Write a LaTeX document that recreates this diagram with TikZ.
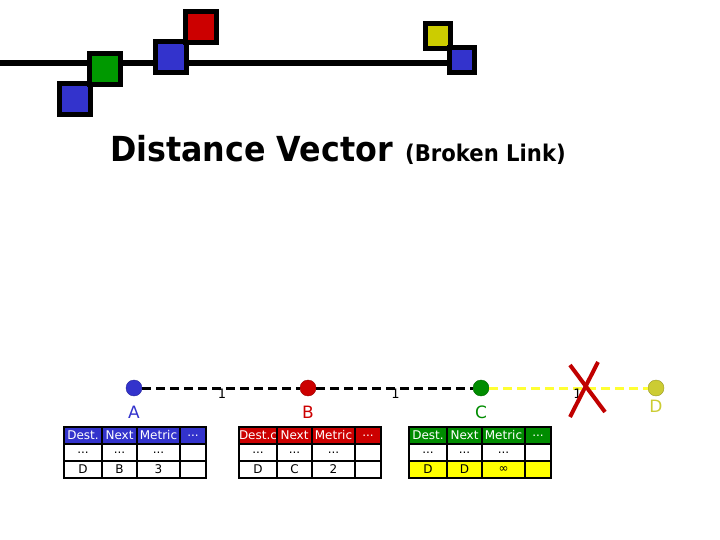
\documentclass[tikz,border=0pt]{standalone}
\usepackage{fontspec}
\setmainfont{DejaVu Sans}
\newfontfamily\titlefont[FakeStretch=0.92]{DejaVu Sans}
\usetikzlibrary{positioning}
\definecolor{nblue}{RGB}{51,51,204}
\definecolor{nred}{RGB}{204,0,0}
\definecolor{ngreen}{RGB}{0,140,0}
\definecolor{sqgreen}{RGB}{0,153,0}
\definecolor{nolive}{RGB}{204,204,51}
\definecolor{sqyellow}{RGB}{204,204,0}
\definecolor{hiyel}{RGB}{255,255,0}
\definecolor{lnkyellow}{RGB}{255,255,51}
\definecolor{xred}{RGB}{192,0,0}
\newcommand\Dts{...}
\tikzset{
  bigsq/.style={
    shape = rectangle,
    draw = black,
    line width = 5pt,
    inner sep = 0pt,
    minimum size = 31pt
  },
  smallsq/.style={
    shape = rectangle,
    draw = black,
    line width = 5pt,
    inner sep = 0pt,
    minimum size = 25pt
  },
  router/.style={
    shape = circle,
    inner sep = 0pt,
    minimum size = 16pt,
    draw = #1!75!black,
    fill = #1
  },
  link/.style={
    line width = 3pt,
    dash pattern = on 9pt off 5pt
  },
  cost/.style={
    font = \fontsize{13}{14}\selectfont,
    inner sep = 0pt,
    xshift = 1pt,
    yshift = -6pt
  },
  lbl/.style={
    font = \fontsize{17}{18}\selectfont,
    inner sep = 0pt
  },
  cell/.style={
    shape = rectangle,
    draw = black,
    line width = 2pt,
    inner sep = 0pt,
    outer sep = 0pt,
    minimum height = 17pt,
    anchor = north west,
    font = \fontsize{12}{13}\selectfont
  },
  xmark/.style={
    draw = xred,
    line width = 4pt
  }
}
\begin{document}
\begin{tikzpicture}[x=1pt,y=-1pt]
  \useasboundingbox (0,0) rectangle (720,540);
  % logo
  \draw[line width=6pt] (0,63) -- (462,63);
  \node[bigsq, fill=nblue] (sq1) at (75,99) {};
  \node[bigsq, fill=sqgreen] (sq2) at (105,69) {};
  \node[bigsq, fill=nblue] (sq3) at (171,57) {};
  \node[bigsq, fill=nred] (sq4) at (201,27) {};
  \node[smallsq, fill=sqyellow] (sq5) at (438,36) {};
  \node[smallsq, fill=nblue] (sq6) at (462,60) {};

  % title
  \node[anchor=base west, inner sep=0pt, font=\titlefont\bfseries\fontsize{34.5}{38}\selectfont] (title) at (110,162) {Distance Vector};
  \node[anchor=base west, inner sep=0pt, font=\titlefont\bfseries\fontsize{23}{27}\selectfont] (subtitle) at (405,162) {(Broken Link)};

  % routers
  \node[router=nblue] (A) at (134,388) {};
  \node[router=nred] (B) at (308,388) {};
  \node[router=ngreen] (C) at (481,388) {};
  \node[router=nolive] (D) at (656,388) {};
  \draw[link] (A) -- node[cost] (cAB) {1} (B);
  \draw[link] (B) -- node[cost] (cBC) {1} (C);
  \draw[link, draw=lnkyellow] (C) -- node[cost, pos=0.55] (cCD) {1} (D);
  \node[lbl, text=nblue] (labA) at (134,412) {A};
  \node[lbl, text=nred] (labB) at (308,412) {B};
  \node[lbl, text=ngreen] (labC) at (481,412) {C};
  \node[lbl, text=nolive] (labD) at (656,406) {D};

  % broken link
  \draw[xmark] (570,365) -- (605,412);
  \draw[xmark] (598,362) -- (570,417);

  % routing tables
  \foreach \t/\x/\hc/\dc/\nx/\mt/\lc in {A/64/nblue/Dest./B/3/white, B/239/nred/Dest.c/C/2/white, C/409/ngreen/Dest./D/∞/hiyel} {
    \foreach \c/\cx/\w/\h/\v in {1/0/38/\dc/D, 2/38/35/Next/\nx, 3/73/43/Metric/\mt, 4/116/26/\Dts/{}} {
      \node[cell, fill=\hc, text=white, minimum width=\w pt] (\t-h\c) at (\x+\cx,427) {\h};
      \node[cell, fill=white, minimum width=\w pt] (\t-m\c) at (\x+\cx,444) {\ifnum\c<4 \Dts\fi};
      \node[cell, fill=\lc, minimum width=\w pt] (\t-l\c) at (\x+\cx,461) {\v};
    }
    \draw[line width=2.5pt] (\t-h1.north west) rectangle (\t-l4.south east);
  }
\end{tikzpicture}
\end{document}
